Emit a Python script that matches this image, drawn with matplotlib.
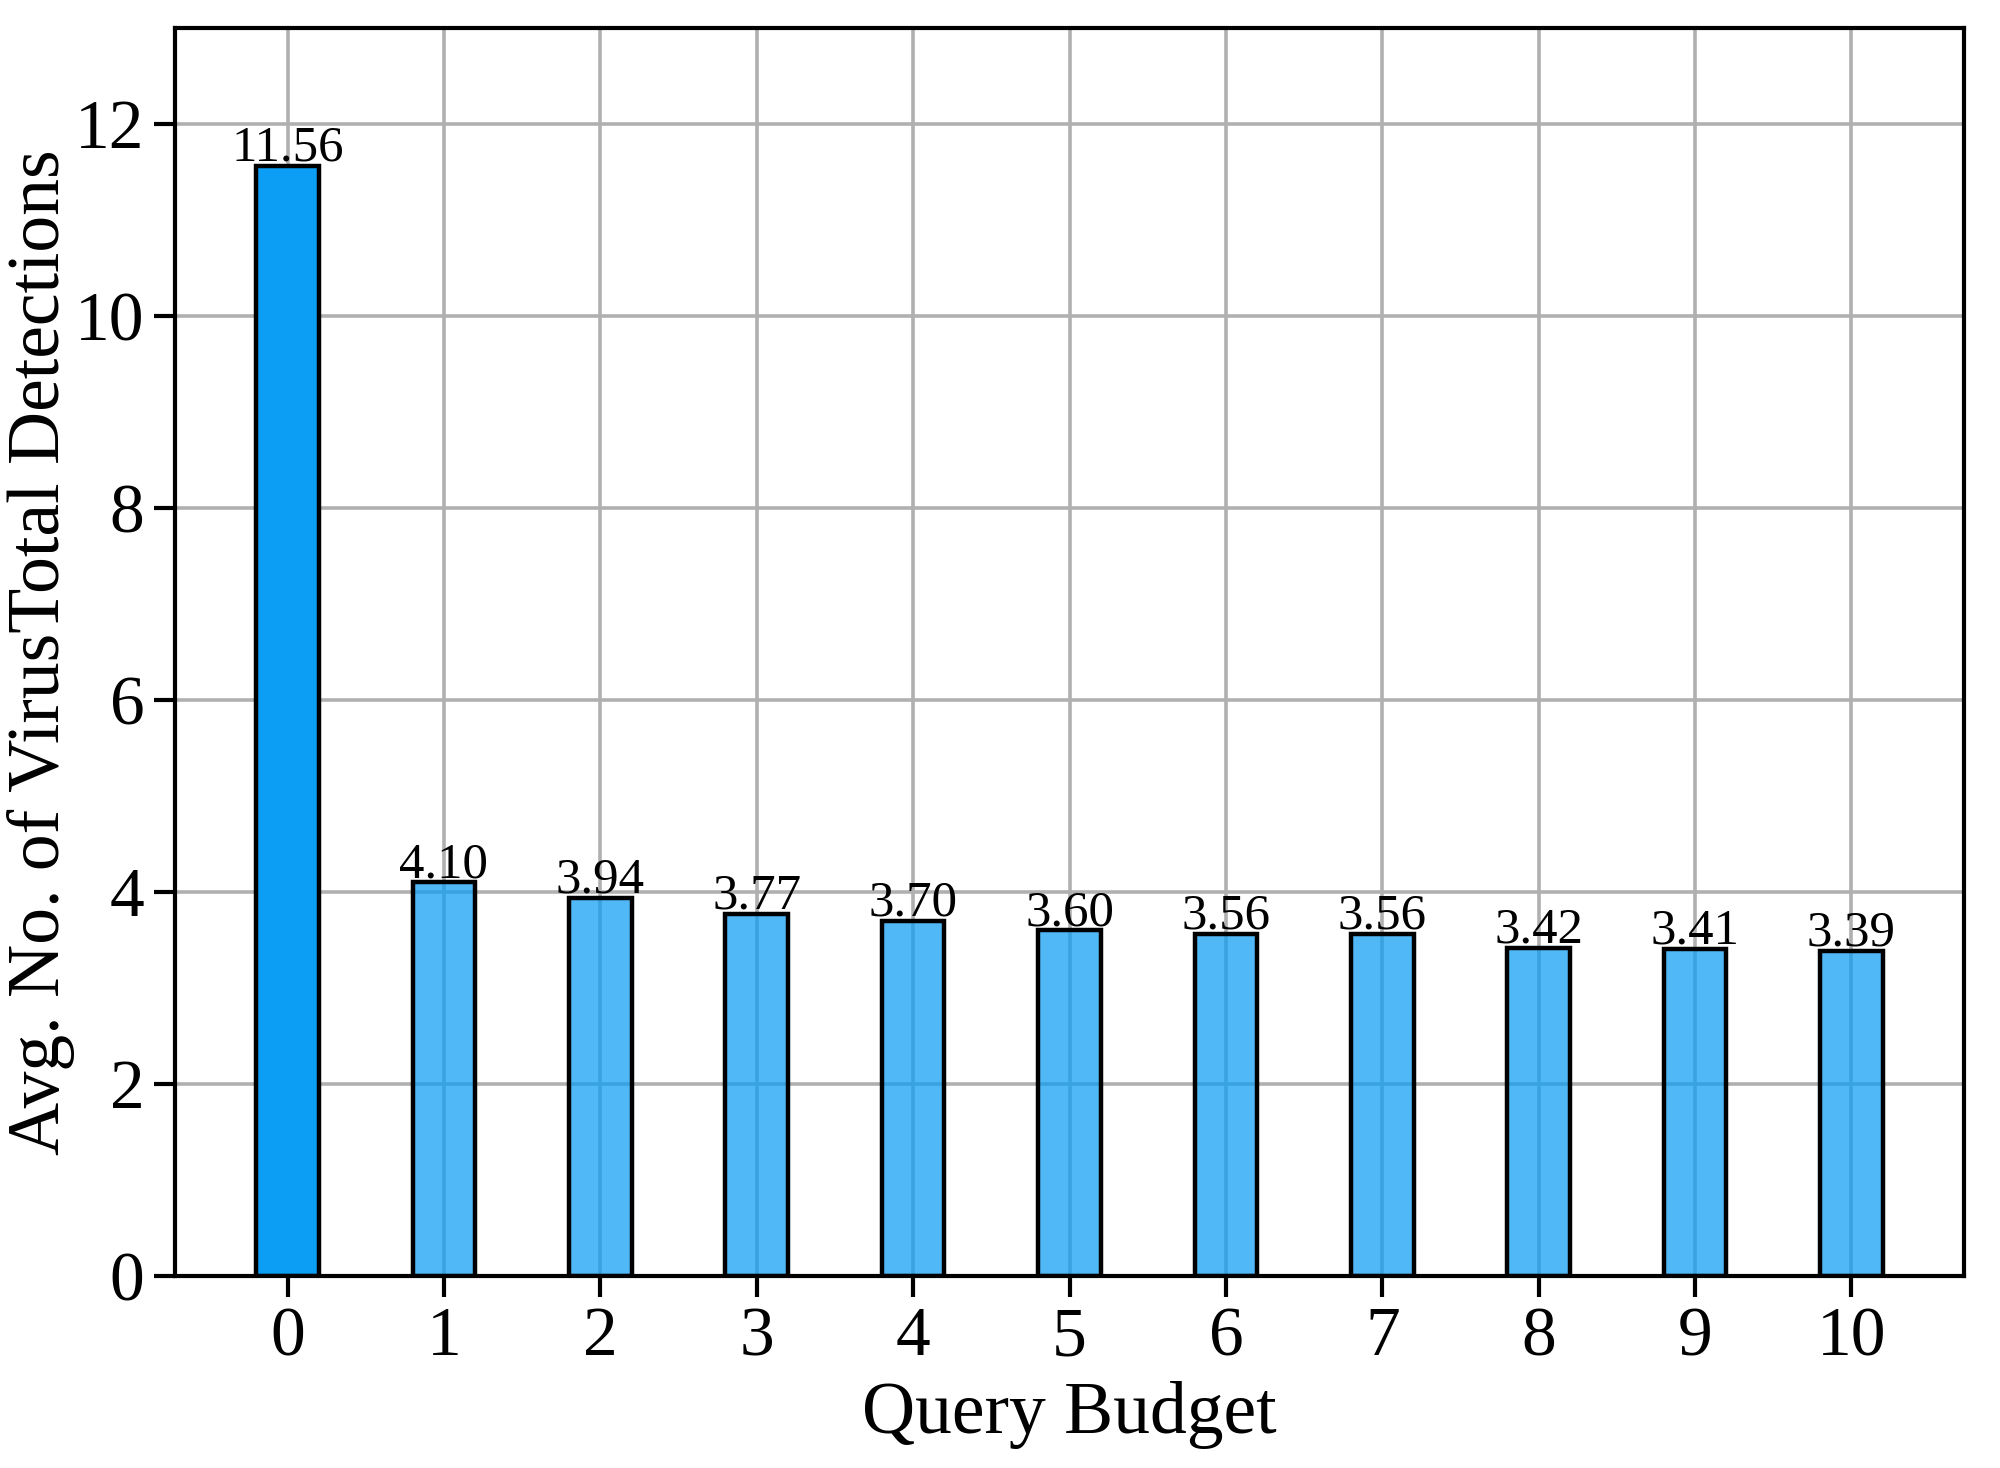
import matplotlib.pyplot as plt
import numpy as np

# data
budgets = [0, 1, 2, 3, 4, 5, 6, 7, 8, 9, 10]
detections = [11.56, 4.10, 3.94, 3.77, 3.70, 3.60, 3.56, 3.56, 3.42, 3.41, 3.39]

plt.rcParams['font.family'] = ['Liberation Serif', 'DejaVu Serif']

fig = plt.figure(figsize=(10, 7.34), dpi=200)
ax = fig.add_axes([0.0875, 0.1308, 0.8945, 0.8502])
ax.set_axisbelow(True)
ax.grid(True, color='#b0b0b0', linewidth=1.3)

x = np.arange(len(budgets))
alphas = [1.0] + [0.72] * (len(budgets) - 1)
for xi, val, a in zip(x, detections, alphas):
    ax.bar(xi, val, width=0.4, color='#0C9DF4', alpha=a, edgecolor='none', zorder=2)
    ax.bar(xi, val, width=0.4, facecolor='none', edgecolor='black', linewidth=1.6, zorder=3)
    ax.text(xi, val - 0.06, f'{val:.2f}', ha='center', va='bottom', fontsize=18.3, zorder=4)

ax.set_xlim(-0.72, 10.72)
ax.set_ylim(0, 13)
ax.set_xticks(x)
ax.set_xticklabels([str(b) for b in budgets])
ax.set_yticks([0, 2, 4, 6, 8, 10, 12])
ax.tick_params(labelsize=25, width=1.5, length=7.5)
for s in ax.spines.values():
    s.set_linewidth(1.5)

ax.set_xlabel('Query Budget', fontsize=26.5)
ax.set_ylabel('Avg. No. of VirusTotal Detections', fontsize=26.5)
ax.yaxis.set_label_coords(-0.056, 0.5)

fig.savefig('out.png', dpi=200)
